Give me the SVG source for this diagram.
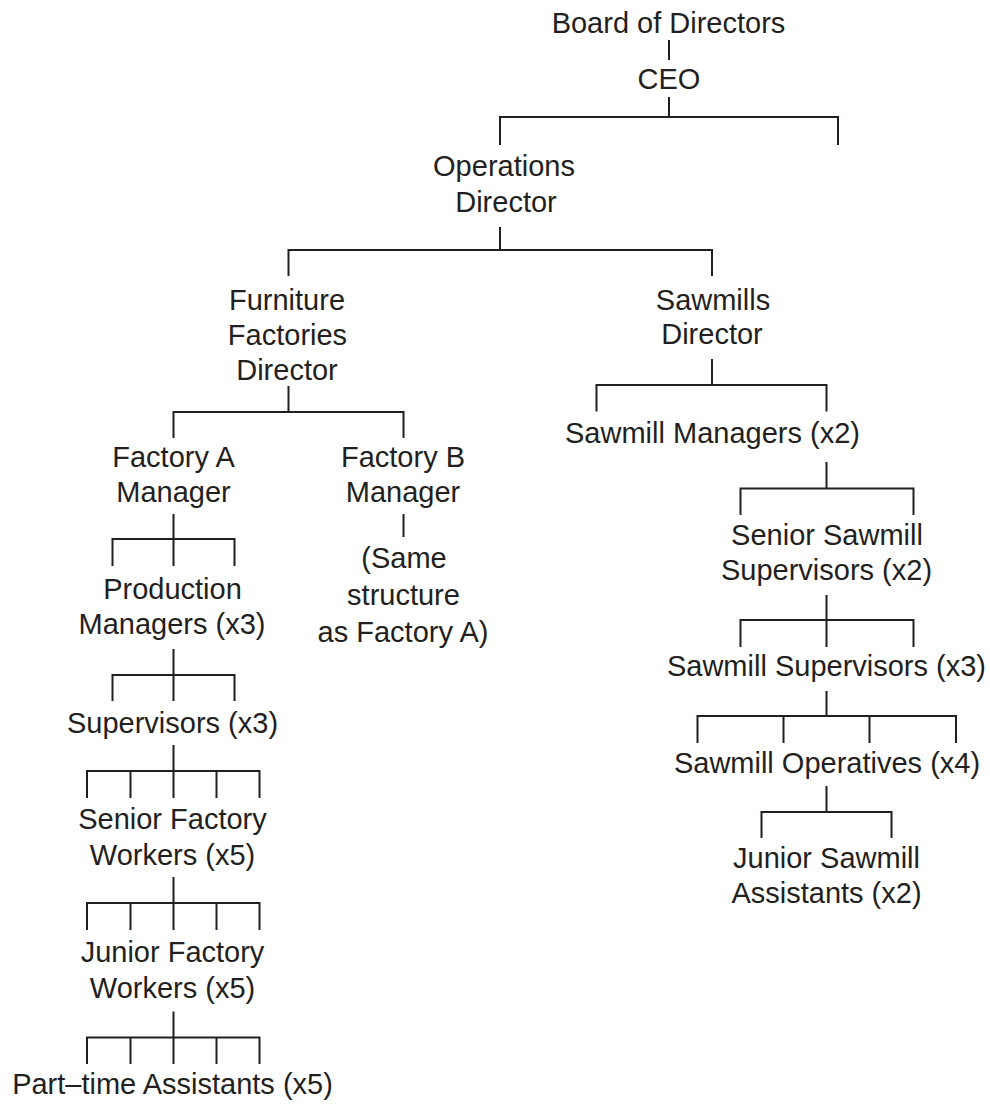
<svg xmlns="http://www.w3.org/2000/svg" width="990" height="1104" viewBox="0 0 990 1104">
<style>
  text { font-family: "Liberation Sans", Arial, Helvetica, sans-serif; font-size: 29px; fill: #231f20; text-anchor: middle; }
  .conn path { fill: none; stroke: #231f20; stroke-width: 2; stroke-linecap: butt; stroke-linejoin: miter; }
</style>
<rect width="990" height="1104" fill="#ffffff"/>
<g id="connectors" class="conn">
  <path d="M669 40 V60"/>
  <path d="M669 97 V117 M500 145 V117 H838 V145"/>
  <path d="M500 227 V250 M288.5 276 V250 H712 V276"/>
  <path d="M288.5 386 V412 M173.5 438 V412 H403.5 V438"/>
  <path d="M173.5 514 V539 M112.5 566 V539 H234.5 V566 M173.5 539 V566"/>
  <path d="M403.5 514 V537"/>
  <path d="M173.5 649 V675 M112.5 701 V675 H234.5 V701 M173.5 675 V701"/>
  <path d="M173.5 745 V771 M87 798 V771 H259.5 V798 M130.5 771 V798 M173.5 771 V798 M216.5 771 V798"/>
  <path d="M173.5 877 V903 M87 930 V903 H259.5 V930 M130.5 903 V930 M173.5 903 V930 M216.5 903 V930"/>
  <path d="M173.5 1011.5 V1037.5 M87 1064 V1037.5 H259.5 V1064 M130.5 1037.5 V1064 M173.5 1037.5 V1064 M216.5 1037.5 V1064"/>
  <path d="M712 359 V385 M596.5 411.5 V385 H826.5 V411.5"/>
  <path d="M826.5 462 V488.5 M740.5 515 V488.5 H913.5 V515"/>
  <path d="M826.5 595 V620 M740.5 647 V620 H913.5 V647 M826.5 620 V647"/>
  <path d="M826.5 691 V716 M697.5 743 V716 H956 V743 M783.5 716 V743 M869.5 716 V743"/>
  <path d="M826.5 786 V812 M761.5 838 V812 H891.5 V838"/>
</g>
<g id="board"><text x="668.5" y="33">Board of Directors</text></g>
<g id="ceo"><text x="669" y="89">CEO</text></g>
<g id="operations-director"><text x="504" y="176">Operations</text><text x="506" y="211.5">Director</text></g>
<g id="furniture-director"><text x="287" y="309.5">Furniture</text><text x="287.5" y="344.5">Factories</text><text x="287" y="379.5">Director</text></g>
<g id="sawmills-director"><text x="713" y="309.5">Sawmills</text><text x="712" y="344">Director</text></g>
<g id="factory-a-manager"><text x="173.5" y="467">Factory A</text><text x="173.5" y="501.5">Manager</text></g>
<g id="factory-b-manager"><text x="403" y="467">Factory B</text><text x="403" y="501.5">Manager</text></g>
<g id="factory-b-note"><text x="404" y="568">(Same</text><text x="403.5" y="605">structure</text><text x="403" y="641.5">as Factory A)</text></g>
<g id="production-managers"><text x="172.5" y="599">Production</text><text x="172" y="633.5">Managers (x3)</text></g>
<g id="supervisors"><text x="172.5" y="733">Supervisors (x3)</text></g>
<g id="senior-factory-workers"><text x="172.5" y="829">Senior Factory</text><text x="172.5" y="865">Workers (x5)</text></g>
<g id="junior-factory-workers"><text x="172.5" y="962">Junior Factory</text><text x="172.5" y="998">Workers (x5)</text></g>
<g id="part-time-assistants"><text x="172.5" y="1094">Part&#8211;time Assistants (x5)</text></g>
<g id="sawmill-managers"><text x="712.5" y="443">Sawmill Managers (x2)</text></g>
<g id="senior-sawmill-supervisors"><text x="827" y="545">Senior Sawmill</text><text x="826.5" y="580">Supervisors (x2)</text></g>
<g id="sawmill-supervisors"><text x="826.5" y="676">Sawmill Supervisors (x3)</text></g>
<g id="sawmill-operatives"><text x="827" y="773">Sawmill Operatives (x4)</text></g>
<g id="junior-sawmill-assistants"><text x="826.5" y="868">Junior Sawmill</text><text x="826.5" y="903">Assistants (x2)</text></g>
</svg>
